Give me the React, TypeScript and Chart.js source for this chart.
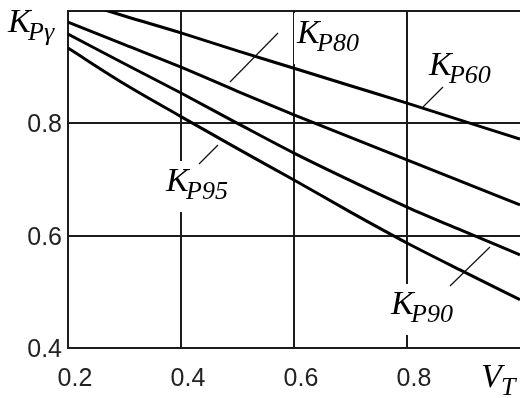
import React, { useEffect, useRef } from "react";
import { Chart, registerables } from "chart.js";

Chart.register(...registerables);

// V_T values (x axis)
const vt = [0.2, 0.3, 0.4, 0.5, 0.6, 0.7, 0.8, 0.9, 1.0];
// K_Pγ curves
const kp60 = [1.022, 0.991, 0.961, 0.929, 0.898, 0.867, 0.836, 0.804, 0.772];
const kp80 = [0.98, 0.94, 0.9, 0.857, 0.815, 0.775, 0.735, 0.695, 0.655];
const kp90 = [0.959, 0.906, 0.854, 0.8, 0.747, 0.698, 0.651, 0.608, 0.566];
const kp95 = [0.934, 0.87, 0.812, 0.755, 0.699, 0.642, 0.587, 0.536, 0.486];

const xTickLabels = ["0.2", "0.4", "0.6", "0.8", ""];
const yTickLabels = ["0.4", "0.6", "0.8", ""];

const curveNames = ["P60", "P80", "P90", "P95"];

// annotation placement, in data units (label anchor + leader line)
const curveNotes = [
  { sub: curveNames[0], x: 0.8389, y: 0.886, l: [0.8637, 0.8647, 0.8283, 0.8291] },
  { sub: curveNames[1], x: 0.6053, y: 0.943, l: [0.5717, 0.9608, 0.4867, 0.8736] },
  { sub: curveNames[2], x: 0.7717, y: 0.4605, l: [0.9469, 0.5798, 0.8761, 0.5104] },
  { sub: curveNames[3], x: 0.3735, y: 0.6795, l: [0.4655, 0.7614, 0.4319, 0.7276] },
];
const axisNotes = [
  { main: "K", sub: "Pγ", x: 0.0938, y: 0.9626 },
  { main: "V", sub: "T", x: 0.931, y: 0.3306 },
];

const MAIN_FONT = "italic 34px 'Liberation Serif', 'DejaVu Serif', serif";
const SUB_FONT = "italic 26px 'Liberation Serif', 'DejaVu Serif', serif";

function drawLabel(ctx: CanvasRenderingContext2D, px: number, py: number, main: string, sub: string) {
  ctx.fillStyle = "#000";
  ctx.textBaseline = "alphabetic";
  ctx.textAlign = "left";
  ctx.font = MAIN_FONT;
  ctx.fillText(main, px, py);
  ctx.font = SUB_FONT;
  ctx.fillText(sub, px + 20, py + 8);
}

const notesPlugin = {
  id: "notes",
  beforeDatasetsDraw(chart: any) {
    const { ctx, scales, chartArea } = chart;
    const x = scales.x, y = scales.y;
    ctx.save();
    for (const n of curveNotes) {
      const px = x.getPixelForValue(n.x);
      const py = y.getPixelForValue(n.y);
      ctx.font = SUB_FONT;
      const w = 20 + ctx.measureText(n.sub).width;
      const top = Math.max(py - 30, chartArea.top + 2);
      ctx.fillStyle = "#fff";
      ctx.fillRect(px - 3, top, w + 6, py + 21 - top);
    }
    ctx.restore();
  },
  afterDatasetsDraw(chart: any) {
    const { ctx, scales } = chart;
    const x = scales.x, y = scales.y;
    ctx.save();
    for (const n of curveNotes) {
      const px = x.getPixelForValue(n.x);
      const py = y.getPixelForValue(n.y);
      drawLabel(ctx, px, py, "K", n.sub);
      ctx.beginPath();
      ctx.moveTo(x.getPixelForValue(n.l[0]), y.getPixelForValue(n.l[1]));
      ctx.lineTo(x.getPixelForValue(n.l[2]), y.getPixelForValue(n.l[3]));
      ctx.strokeStyle = "#111";
      ctx.lineWidth = 1.2;
      ctx.stroke();
    }
    for (const n of axisNotes) {
      drawLabel(ctx, x.getPixelForValue(n.x), y.getPixelForValue(n.y), n.main, n.sub);
    }
    ctx.restore();
  },
};

export default function App() {
  const ref = useRef<HTMLCanvasElement | null>(null);
  useEffect(() => {
    if (!ref.current) return;
    const gridColor = "#1c1c1c";
    const mk = (data: number[]) => ({
      data: vt.map((v, i) => ({ x: v, y: data[i] })),
      borderColor: "#000",
      borderWidth: 3,
      pointRadius: 0,
      cubicInterpolationMode: "monotone" as const,
      fill: false,
    });
    const chart = new Chart(ref.current, {
      type: "line",
      data: { datasets: [mk(kp60), mk(kp80), mk(kp90), mk(kp95)] },
      options: {
        animation: false,
        responsive: false,
        maintainAspectRatio: false,
        layout: { padding: { top: 11, left: 0, right: 0, bottom: 0 } },
        plugins: { legend: { display: false }, tooltip: { enabled: false } },
        scales: {
          x: {
            type: "linear",
            min: 0.2,
            max: 1.0,
            afterFit: (s: any) => {
              s.height = 50;
              s.paddingLeft = 0;
              s.paddingRight = 0;
              s.paddingTop = 0;
              s.paddingBottom = 0;
            },
            ticks: {
              stepSize: 0.2,
              callback: (_v: any, i: number) => xTickLabels[i] ?? "",
              font: { family: "'Liberation Sans', Arial, sans-serif", size: 25 },
              color: "#222",
              padding: 16,
              labelOffset: 7,
              maxRotation: 0,
              autoSkip: false,
            },
            grid: {
              color: (c: any) => (c.index === 4 ? "rgba(0,0,0,0)" : gridColor),
              lineWidth: 2,
              drawTicks: false,
            },
            border: { display: true, color: gridColor, width: 2 },
          },
          y: {
            type: "linear",
            min: 0.4,
            max: 1.0,
            afterFit: (s: any) => {
              s.width = 68;
              s.paddingLeft = 0;
              s.paddingRight = 0;
              s.paddingTop = 0;
              s.paddingBottom = 0;
            },
            ticks: {
              stepSize: 0.2,
              callback: (_v: any, i: number) => yTickLabels[i] ?? "",
              font: { family: "'Liberation Sans', Arial, sans-serif", size: 25 },
              color: "#222",
              padding: 6,
              labelOffset: 2,
              autoSkip: false,
            },
            grid: { color: gridColor, lineWidth: 2, drawTicks: false },
            border: { display: true, color: gridColor, width: 2 },
          },
        },
      },
      plugins: [notesPlugin],
    });
    return () => chart.destroy();
  }, []);
  return (
    <div style={{ position: "absolute", left: 0, top: 0, width: 520, height: 398, background: "#fff" }}>
      <canvas ref={ref} width={520} height={398} style={{ display: "block" }} />
    </div>
  );
}
